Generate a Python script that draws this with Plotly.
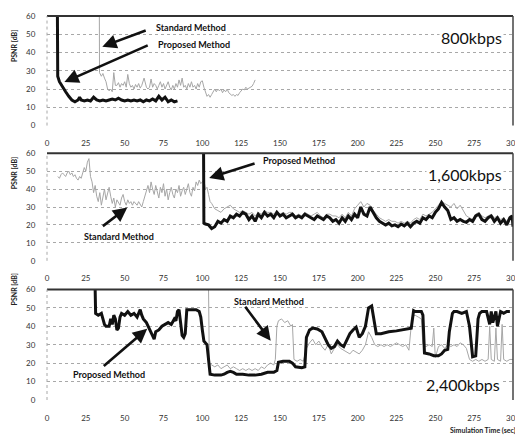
import plotly.graph_objects as go

# ---------------- data ----------------
x_ticks = [0, 25, 50, 75, 100, 125, 150, 175, 200, 225, 250, 275, 300]
y_ticks = [0, 10, 20, 30, 40, 50, 60]
panel_labels = ["800kbps", "1,600kbps", "2,400kbps"]

# 800 kbps
p1_prop_x = [6.7, 6.9, 8, 10, 12, 14, 16, 18, 20, 21, 22, 24, 26, 28, 30, 32, 34, 36, 38, 40,
             42, 44, 46, 48, 50, 52, 54, 56, 58, 60, 62, 64, 66, 68, 70, 72, 74, 76, 78, 80, 82, 84]
p1_prop_y = [60, 27, 24, 21, 18.5, 16, 14, 13, 14, 15.5, 14, 13.5, 14, 13.5, 15.5, 14, 13.5, 14, 13.5, 14,
             14.5, 14, 15, 14, 13.5, 14, 13.5, 14, 13.5, 14, 13, 14, 13.5, 14.5, 13.5, 16, 14, 15.5, 13, 14, 13, 13.5]
p1_std_x = [33.7, 33.8, 35, 36, 37, 38, 39, 40, 41, 42, 43, 44, 45, 46, 47, 48, 49, 50, 51, 52, 53, 54, 55,
            56, 57, 58, 59, 60, 61, 62.5, 64, 65, 66, 67, 68, 69, 70, 71, 72, 73, 74, 75, 76, 77, 78, 79,
            80, 81, 82, 83, 84, 85, 86, 87, 88, 89, 90, 91, 92, 93, 94, 95, 96, 97, 98, 99, 100, 101, 102,
            103, 104, 105, 106, 107, 108, 109, 110, 111, 112, 113, 114, 115, 116, 117, 118, 119, 120, 121,
            122, 123, 124, 125, 126, 127, 128, 129, 130, 131, 132, 133, 134]
p1_std_y = [60, 29, 27, 28.5, 26, 24, 20, 19, 20, 18.5, 29, 22, 22, 23.5, 21, 23, 22, 24, 21, 28, 23, 21, 22,
            20, 22.5, 21, 23, 20.5, 22, 26, 21, 20, 21, 25.5, 21, 23, 22, 20, 22, 24, 21, 23, 20, 22, 24, 21,
            19.5, 22, 20, 23, 21, 25, 22, 26, 21, 22, 20, 23, 21, 24, 21, 22, 20, 23, 21, 24, 24.5, 21, 19,
            16, 17, 15.5, 17, 19, 20, 18.5, 20, 19, 20, 18, 19.5, 18.5, 20, 18, 17, 16.5, 17, 16,
            17, 16.5, 18, 19, 20, 19.5, 21, 20, 20.5, 21, 21.5, 23, 25]

# 1,600 kbps
p2_prop_x = [100.8, 101, 102, 104, 106, 108, 110, 112, 114, 116, 118, 120, 122, 124, 126, 128, 130, 132,
             134, 136, 138, 140, 142, 144, 146, 148, 150, 152, 154, 156, 158, 160, 162, 164, 166, 168, 170,
             172, 174, 176, 178, 180, 182, 184, 186, 188, 190, 192, 194, 196, 198, 200, 202, 204, 206, 208,
             210, 212, 214, 216, 218, 220, 222, 224, 226, 228, 230, 232, 234, 236, 238, 240, 242, 244, 246,
             248, 250, 252, 254, 256, 258, 260, 262, 264, 266, 268, 270, 272, 274, 276, 278, 280, 282, 284,
             286, 288, 290, 292, 294, 296, 298, 299.5, 300]
p2_prop_y = [60, 21, 20.5, 20, 18, 19, 22, 21, 23, 22, 25, 24, 26, 25, 27, 26, 23, 25,
             22, 26, 24, 27, 25, 26, 24, 27, 25, 26, 24, 25, 26, 24, 25, 24, 26, 25, 24,
             23, 25, 24, 23, 25, 24, 22, 23, 21, 24, 22, 25, 23, 26, 24, 30, 26, 25, 30,
             27, 24, 22, 21, 20, 21, 19.5, 20, 19, 20.5, 19.5, 21, 19, 21, 22, 21, 24, 23, 25,
             24, 27, 29, 32.5, 30, 28, 23, 24, 22, 23, 22, 21.5, 23, 22, 25, 26, 23, 22, 24,
             25, 22, 24, 21, 23, 20, 24, 25, 19]
p2_std_x = [7, 8, 9, 10, 11, 12, 13, 14, 15, 16, 17, 18, 19, 20, 21, 22, 23, 24, 25, 26, 27, 28, 29, 30,
            31, 32, 33, 34, 35, 36, 37, 38, 39, 40, 41, 42, 43, 44, 45, 46, 47, 48, 49, 50, 51, 52, 53, 54,
            55, 56, 57, 58, 59, 60, 61, 62, 63, 64, 65, 66, 67, 68, 69, 70, 71, 72, 73, 74, 75, 76, 77, 78,
            79, 80, 81, 82, 83, 84, 85, 86, 87, 88, 89, 90, 91, 92, 93, 94, 95, 96, 97, 98, 99, 100, 101,
            102, 103, 104, 105, 106, 107, 108, 110, 112, 114, 116, 118, 120, 122, 124, 126, 128, 130, 132,
            134, 136, 138, 140, 142, 144, 146, 148, 150, 152, 154, 156, 158, 160, 162, 164, 166, 168, 170,
            172, 174, 176, 178, 180, 182, 184, 186, 188, 190, 192, 194, 196, 198, 200, 202, 204, 206, 208,
            210, 212, 214, 216, 218, 220, 222, 224, 226, 228, 230, 232, 234, 236, 238, 240, 242, 244, 246,
            248, 250, 252, 254, 256, 258, 260, 262, 264, 266, 268, 270, 272, 274, 276, 278, 280, 282, 284,
            286, 288, 290, 292, 294, 296, 298, 300]
p2_std_y = [47, 46, 48, 49, 48, 47, 49, 50, 48, 49, 47, 48, 46, 45, 47, 46, 49, 52, 50, 55, 57, 47, 44, 38,
            42, 36, 33, 38, 31, 35, 40, 34, 38, 41, 36, 32, 35, 30, 34, 32, 31, 35, 37, 33, 31, 34, 32, 33,
            31, 33, 32, 31, 33, 31, 30, 33, 36, 40, 42, 38, 44, 40, 37, 42, 39, 35, 41, 38, 43, 36, 40, 34,
            38, 41, 37, 35, 40, 38, 42, 36, 39, 41, 37, 40, 43, 38, 36, 41, 39, 44, 42, 45, 43, 44, 45,
            40, 41, 37, 33, 32, 30, 29, 28, 27, 29, 30, 31, 29, 28, 27, 28, 27, 26, 27,
            25, 27, 26, 28, 27, 27, 26, 28, 26, 27, 26, 27, 27, 25, 26, 25, 27, 26, 25,
            26, 27, 25, 24, 26, 26, 25, 25, 24, 26, 24, 27, 25, 29, 31, 33, 30, 32, 31,
            28, 26, 24, 23, 22, 23, 22, 22, 21, 22, 21, 22, 21, 23, 24, 23, 26, 25, 26,
            27, 29, 31, 33, 32, 31, 30, 32, 29, 31, 28, 25, 24, 23, 26, 27, 25, 24, 25,
            26, 24, 25, 23, 24, 22, 25, 24]

# 2,400 kbps
p3_prop_x = [31, 31.3, 33, 35, 36, 37, 38, 40, 41, 42, 43, 44, 45, 46, 47, 48, 50, 52, 54, 56, 58, 60, 61,
             62, 64, 66, 67, 68, 69, 70, 72, 74, 76, 78, 80, 82, 83, 84, 85, 86, 87, 88, 89, 90, 92, 94, 96,
             98, 99, 100, 101, 102, 103, 105, 108, 112, 114, 116, 118, 120, 122, 126, 130, 134, 138, 142,
             146, 148, 149, 152, 156, 158, 160, 164, 166, 167, 169, 171, 174, 177, 179, 181, 183, 185, 187,
             189, 191, 193, 195, 197, 199, 201, 203, 205, 207, 209, 211, 212, 215, 220, 225, 230, 234.5, 236,
             237, 239, 241, 242, 243, 246, 249, 252, 254, 256, 258, 259, 261, 262, 264, 267, 270, 272, 273.5,
             274, 276, 277.5, 278.5, 280, 283, 285, 286, 287, 289, 290, 292, 294, 296, 298, 300]
p3_prop_y = [60, 47, 46, 47, 44, 41, 40, 40, 44, 41, 46, 44, 38, 39, 45, 47, 46, 48, 46, 47, 45, 49, 46,
             44, 42, 38, 36, 34, 33, 37, 38, 40, 41, 42, 41, 44, 43, 48, 49, 40, 35, 34, 36, 49, 49, 49, 49,
             48, 45, 38, 32, 31, 30, 14, 13.5, 13.5, 14, 15, 15.5, 15, 14, 14, 13.5, 13.5, 14, 15,
             15, 16, 20.5, 21, 21, 20, 18, 17.5, 18, 34, 38, 39, 38.5, 37, 33, 30, 28, 29, 32,
             30, 29, 33, 36, 38, 39.5, 34, 36, 40, 50, 51, 41, 36, 36, 37, 37.5, 38.5, 39, 48.5,
             48, 48, 48, 46, 25.5, 25, 24, 24, 25, 27, 27.5, 37, 47, 48, 48, 47, 48, 40,
             24, 23.5, 24, 44, 47, 48, 48, 41, 48, 42, 48, 40, 48, 47, 48, 48]
p3_std_x = [104, 104.5, 106, 108, 110, 112, 114, 116, 118, 120, 122, 124, 126, 128, 130, 132, 134, 136, 138,
            140, 142, 144, 146, 147, 148, 149, 151, 153, 155, 157, 158, 159, 161, 163, 165, 167, 169, 171,
            173, 175, 177, 179, 181, 183, 185, 187, 189, 191, 193, 195, 197, 199, 201, 203, 205, 207, 209,
            211, 213, 215, 217, 219, 221, 223, 225, 227, 229, 231, 233, 235, 237, 239, 241, 242, 244, 246,
            248, 249, 250, 252, 254, 256, 258, 260, 262, 264, 266, 268, 270, 272, 274, 276, 278, 280, 282,
            284, 285, 286, 288, 289, 290, 292, 293, 294, 296, 298, 300]
p3_std_y = [60, 20, 19, 18, 19, 17, 18, 19, 17, 18, 17, 16, 17, 16, 17, 16, 17, 16, 18,
            17, 19, 20, 19, 22, 40, 43, 44, 42, 43, 40, 41, 22, 21, 22, 21, 28, 31, 33,
            30, 32, 29, 27, 30, 25, 28, 30, 28, 27, 26, 25, 27, 26, 25, 27, 30, 37, 34,
            30, 29, 30, 29, 30, 29, 30, 31, 30, 29, 30, 27, 45, 46, 45, 44, 30, 29, 30,
            29, 39, 23, 29, 30, 28, 30, 29, 30, 29, 31, 30, 28, 22, 21, 22, 21, 22, 21,
            22, 40, 22, 21, 39, 22, 21, 41, 22, 21, 22, 22]

# ---------------- figure ----------------
FONT = "Lato"
BLACK = "#111111"
GRAY = "#a6a6a6"

fig = go.Figure()
series = [
    (p1_std_x, p1_std_y, p1_prop_x, p1_prop_y, "x", "y"),
    (p2_std_x, p2_std_y, p2_prop_x, p2_prop_y, "x2", "y2"),
    (p3_std_x, p3_std_y, p3_prop_x, p3_prop_y, "x3", "y3"),
]
for sx, sy, px, py, xa, ya in series:
    fig.add_trace(go.Scatter(x=sx, y=sy, mode="lines", xaxis=xa, yaxis=ya,
                             line=dict(color=GRAY, width=1), showlegend=False, name="Standard Method"))
    fig.add_trace(go.Scatter(x=px, y=py, mode="lines", xaxis=xa, yaxis=ya,
                             line=dict(color=BLACK, width=3), showlegend=False, name="Proposed Method"))

# the page body has an 8px margin: the figure is sized/offset to compensate
domains = [[0.7147, 1.0], [0.3625, 0.6427], [0.0, 0.288]]
layout = dict(
    width=515, height=429,
    margin=dict(l=39, r=8, t=3, b=37),
    paper_bgcolor="white", plot_bgcolor="white",
    font=dict(family=FONT, size=8, color="#333333"),
    showlegend=False,
)
for i, dom in enumerate(domains):
    sfx = "" if i == 0 else str(i + 1)
    layout["xaxis" + sfx] = dict(
        domain=[0, 1], range=[0, 300], anchor="y" + sfx, tickvals=x_ticks,
        showgrid=False, zeroline=False, showline=False,
        ticks="outside", ticklen=10, tickcolor="rgba(0,0,0,0)",
        tickfont=dict(family=FONT, size=8, color="#333333"),
    )
    layout["yaxis" + sfx] = dict(
        domain=dom, range=[0, 60], anchor="x" + sfx, tickvals=y_ticks,
        showgrid=True, gridcolor="#a8a8a8", griddash="dot", gridwidth=1,
        zeroline=False, showline=False,
        ticks="outside", ticklen=9, tickcolor="rgba(0,0,0,0)",
        tickfont=dict(family=FONT, size=8, color="#333333"),
    )
fig.update_layout(**layout)

shapes = []
for i in range(3):
    sfx = "" if i == 0 else str(i + 1)
    xr, yr = "x" + sfx + " domain", "y" + sfx + " domain"
    shapes.append(dict(type="line", xref=xr, yref=yr, x0=0, x1=1, y0=1, y1=1,
                       line=dict(color="#333333", width=2)))
    shapes.append(dict(type="line", xref=xr, yref=yr, x0=1, x1=1, y0=0, y1=1,
                       line=dict(color="#444444", width=1.5)))
    shapes.append(dict(type="line", xref=xr, yref=yr, x0=0, x1=0, y0=0, y1=1,
                       line=dict(color="#a8a8a8", width=1, dash="dot")))
fig.update_layout(shapes=shapes)

anns = []
label_font = dict(family=FONT, size=9, color="#111111")

def arrow(xr, yr, tail, head):
    anns.append(dict(xref=xr, yref=yr, axref=xr, ayref=yr, x=head[0], y=head[1],
                     ax=tail[0], ay=tail[1], text="", showarrow=True,
                     arrowhead=2, arrowsize=1.1, arrowwidth=2.6, arrowcolor="#111111"))

def label(xr, yr, x, y, txt, anchor="left"):
    anns.append(dict(xref=xr, yref=yr, x=x, y=y, text="<b>" + txt + "</b>", showarrow=False,
                     xanchor=anchor, yanchor="middle", font=label_font))

# panel 1
arrow("x", "y", (64.5, 52.4), (35.6, 43.2))
arrow("x", "y", (65.8, 44.3), (11.2, 23.8))
label("x", "y", 69, 53.5, "Standard Method")
label("x", "y", 70.3, 44.3, "Proposed Method")
# panel 2
arrow("x2", "y2", (134.6, 54.5), (104.4, 46.2))
arrow("x2", "y2", (35, 18.7), (51.7, 29.7))
label("x2", "y2", 137.8, 56.1, "Proposed Method")
label("x2", "y2", 46.2, 13.8, "Standard Method", "center")
# panel 3
arrow("x3", "y3", (126.9, 51.4), (144, 32.1))
arrow("x3", "y3", (35.6, 17.7), (64.5, 38.6))
label("x3", "y3", 142.9, 53.6, "Standard Method", "center")
label("x3", "y3", 40.1, 13.9, "Proposed Method", "center")

# bitrate labels
for (xr, yr, xv, yv), txt in zip([("x", "y", 273, 48), ("x2", "y2", 269, 47.9), ("x3", "y3", 268, 8.6)],
                                 panel_labels):
    anns.append(dict(xref=xr, yref=yr, x=xv, y=yv, text=txt, showarrow=False,
                     bgcolor="white", borderpad=1,
                     font=dict(family=FONT, size=16, color="#111111")))

# y-axis titles
for yp in [0.969, 0.591, 0.2416]:
    anns.append(dict(xref="paper", yref="paper", x=-0.0833, y=yp, text="<b>PSNR [dB]</b>",
                     textangle=-90, showarrow=False, font=dict(family=FONT, size=7, color="#222222")))

anns.append(dict(xref="paper", yref="paper", x=1.01, y=-0.08, xanchor="right", yanchor="middle",
                 text="<b>Simulation Time (sec)</b>", showarrow=False,
                 font=dict(family=FONT, size=7, color="#222222")))
fig.update_layout(annotations=anns)

fig.write_html("out.html")
